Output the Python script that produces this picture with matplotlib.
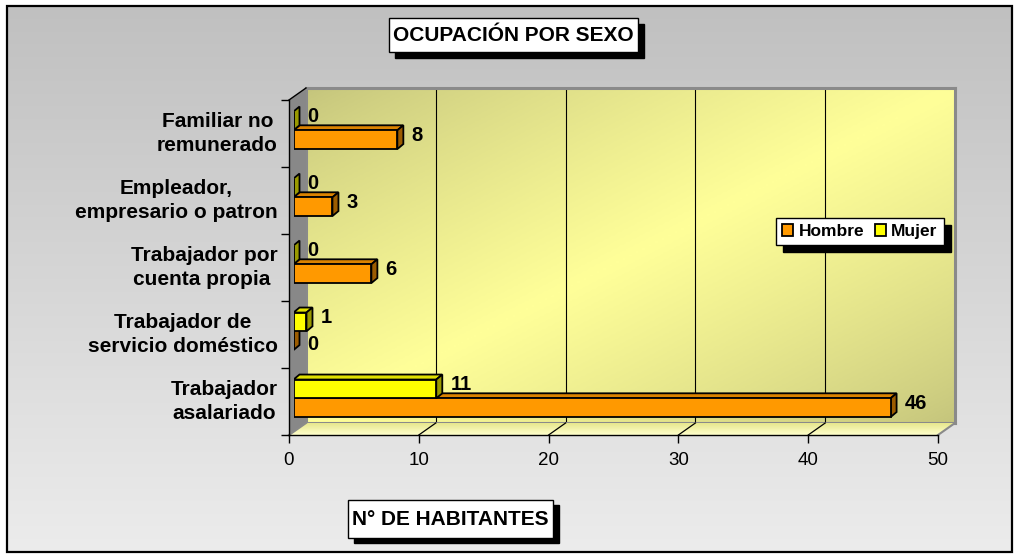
import numpy as np
import matplotlib
matplotlib.use("Agg")
import matplotlib.pyplot as plt
from matplotlib.patches import Polygon, Rectangle
from matplotlib.colors import LinearSegmentedColormap, to_rgb

# ---------------- data ----------------
categories = ["Trabajador\nasalariado",
              "Trabajador de\nservicio doméstico",
              "Trabajador por\ncuenta propia ",
              "Empleador,\nempresario o patron",
              "Familiar no\nremunerado"]
hombre = [46, 0, 6, 3, 8]
mujer = [11, 1, 0, 0, 0]
series_names = ["Hombre", "Mujer"]
x_ticks = [0, 10, 20, 30, 40, 50]
title_text = "OCUPACIÓN POR SEXO"
x_title = "N° DE HABITANTES"

plt.rcParams['font.family'] = ['Liberation Sans', 'DejaVu Sans']

W, H = 1016, 557
fig = plt.figure(figsize=(W / 100, H / 100), dpi=100)
fig.patch.set_facecolor('white')


def rect(x0, y0, x1, y1):
    return [x0 / W, 1 - y1 / H, (x1 - x0) / W, (y1 - y0) / H]


# ---------------- background ----------------
bg = fig.add_axes([0, 0, 1, 1], zorder=0)
bg.set_xlim(0, W)
bg.set_ylim(H, 0)
bg.axis('off')
cm_bg = LinearSegmentedColormap.from_list('bg', ['#c0c0c0', '#ececec'])
bg.imshow(np.linspace(0, 1, 256).reshape(-1, 1), cmap=cm_bg,
          extent=[7, 1012, 552, 6], aspect='auto')
bg.add_patch(Rectangle((7, 6), 1005, 546, fill=False, ec='black', lw=1.6))

# title boxes
bg.add_patch(Rectangle((395, 24), 249, 34, fc='black', ec='black'))
bg.add_patch(Rectangle((389, 18), 249, 34, fc='white', ec='black', lw=1))
bg.text(513.5, 35.5, title_text, ha='center', va='center',
        fontsize=15, fontweight='bold')
bg.add_patch(Rectangle((354, 505), 205, 38, fc='black', ec='black'))
bg.add_patch(Rectangle((348, 500), 205, 38, fc='white', ec='black', lw=1))
bg.text(450.5, 519.5, x_title, ha='center', va='center',
        fontsize=15, fontweight='bold')

# ---------------- geometry ----------------
FX0, FX1, FY0, FY1 = 289, 938, 100, 435   # front plane
DX, DY = 17, 12                           # wall depth (px)
BX, BY = 4.5, 3.2                         # bar plane depth (px)
XMAX = 50
ppx = (FX1 - FX0) / XMAX
ppy = (FY1 - FY0) / 5.0

# ---------------- back wall ----------------
wall = fig.add_axes(rect(FX0 + DX, FY0 - DY, FX1 + DX, FY1 - DY), zorder=1)
wall.set_xlim(0, XMAX)
wall.set_ylim(-0.5, 4.5)
u = np.linspace(0, 1, 300)
v = np.linspace(0, 1, 200)
U, V = np.meshgrid(u, v)
t = (U + V) / 2
inten = 1 - np.abs(2 * t - 1)
cm_wall = LinearSegmentedColormap.from_list('wall', ['#c4c47c', '#ffff99'])
wall.imshow(inten ** 0.8, cmap=cm_wall, extent=[0, XMAX, -0.5, 4.5],
            aspect='auto', origin='upper', zorder=0)
wall.set_xticks(x_ticks)
wall.set_yticks([])
wall.grid(axis='x', color='black', lw=0.8)
wall.tick_params(length=0, labelbottom=False, labelleft=False)
for s in wall.spines.values():
    s.set_color('#8a8a8a')
    s.set_linewidth(2.2)

# ---------------- front axes ----------------
ax = fig.add_axes(rect(FX0, FY0, FX1, FY1), zorder=2)
ax.set_facecolor('none')
ax.set_xlim(0, XMAX)
ax.set_ylim(-0.5, 4.5)
for side in ['top', 'right']:
    ax.spines[side].set_visible(False)
for side in ['left', 'bottom']:
    ax.spines[side].set_color('black')
    ax.spines[side].set_linewidth(1.0)
ax.set_xticks(x_ticks)
ax.tick_params(axis='x', direction='out', length=6, width=1, labelsize=13.5, pad=6)
ax.set_yticks(np.arange(-0.5, 5, 1))
ax.set_yticklabels([])
ax.tick_params(axis='y', which='major', direction='out', length=6, width=1)
ax.set_yticks(range(len(categories)), minor=True)
ax.set_yticklabels(categories, minor=True, fontsize=15, fontweight='bold',
                   multialignment='center', linespacing=1.3, va='center')
ax.tick_params(axis='y', which='minor', length=0, pad=8)

wdx = DX / ppx
wdy = DY / ppy
# left wall
ax.add_patch(Polygon([(0, -0.5), (0, 4.5), (wdx, 4.5 + wdy), (wdx, -0.5 + wdy)],
                     closed=True, fc='#888888', ec='none', zorder=0.5, clip_on=False))
ax.plot([0, wdx], [4.5, 4.5 + wdy], color='black', lw=1, clip_on=False, zorder=0.6)
# floor with gradient strips
n_strips = 12
c_front = np.array(to_rgb('#ffffcc'))
c_back = np.array(to_rgb('#e6e68c'))
for k in range(n_strips):
    f0, f1 = k / n_strips, (k + 1) / n_strips
    col = c_front + (c_back - c_front) * (f0 + f1) / 2
    ax.add_patch(Polygon([(wdx * f0, -0.5 + wdy * f0), (XMAX + wdx * f0, -0.5 + wdy * f0),
                          (XMAX + wdx * f1, -0.5 + wdy * f1), (wdx * f1, -0.5 + wdy * f1)],
                         closed=True, fc=col, ec='none', zorder=0.5, clip_on=False))
for xt in x_ticks:
    c = 'black' if 0 < xt < XMAX else '#8a8a8a'
    ax.plot([xt, xt + wdx], [-0.5, -0.5 + wdy], color=c, lw=0.9 if c == 'black' else 1.5,
            clip_on=False, zorder=0.7)

# ---------------- bars ----------------
axb = fig.add_axes(rect(FX0 + BX, FY0 - BY, FX1 + BX, FY1 - BY), zorder=3)
axb.set_facecolor('none')
axb.set_xlim(0, XMAX)
axb.set_ylim(-0.5, 4.5)
axb.axis('off')

bh = 0.28
ddx = 6 / ppx
ddy = 5 / ppy
idx = np.arange(len(categories))
styles = [
    (hombre, mujer, idx - bh / 2, '#FF9900', '#DB8300', '#9C5C00', 2),
    (mujer, hombre, idx + bh / 2, '#FFFF00', '#E0E000', '#9A9A00', 4),
]
for (vals, other, ys, cf, ct, cs, z), name in zip(styles, series_names):
    axb.barh(ys, vals, height=bh, color=cf, edgecolor='black', lw=1.3,
             label=name, zorder=z)
    for val, oval, yc in zip(vals, other, ys):
        yb, yt = yc - bh / 2, yc + bh / 2
        if val > 0:
            axb.add_patch(Polygon([(0, yt), (val, yt), (val + ddx, yt + ddy), (ddx, yt + ddy)],
                                  closed=True, fc=ct, ec='black', lw=1.3, zorder=z - 0.1))
        axb.add_patch(Polygon([(val, yb), (val + ddx, yb + ddy), (val + ddx, yt + ddy), (val, yt)],
                              closed=True, fc=cs, ec='black', lw=1.3, zorder=z - 0.1))
        # a zero bar under a non-zero bar gets its label pushed below
        dy_lab = -4 if (val == 0 and oval > 0 and z == 2) else 4.5
        axb.annotate(str(val), xy=(val, yc), xytext=(14, dy_lab), textcoords='offset pixels',
                     ha='left', va='center', fontsize=14.5, fontweight='bold', zorder=6)

h, l = axb.get_legend_handles_labels()
leg = fig.legend(h, l, loc='upper left', bbox_to_anchor=(776 / W, 1 - 218 / H),
                 bbox_transform=fig.transFigure, borderaxespad=0, ncol=2,
                 prop={'size': 12.5, 'weight': 'bold'}, frameon=True, fancybox=False,
                 framealpha=1, edgecolor='black', borderpad=0.35,
                 handlelength=0.65, handleheight=0.65, handletextpad=0.3,
                 columnspacing=0.6,
                 shadow={'ox': 5, 'oy': -5, 'facecolor': 'black',
                         'edgecolor': 'black', 'alpha': 1})
leg.get_frame().set_linewidth(1)

fig.savefig('out.png', dpi=100)
